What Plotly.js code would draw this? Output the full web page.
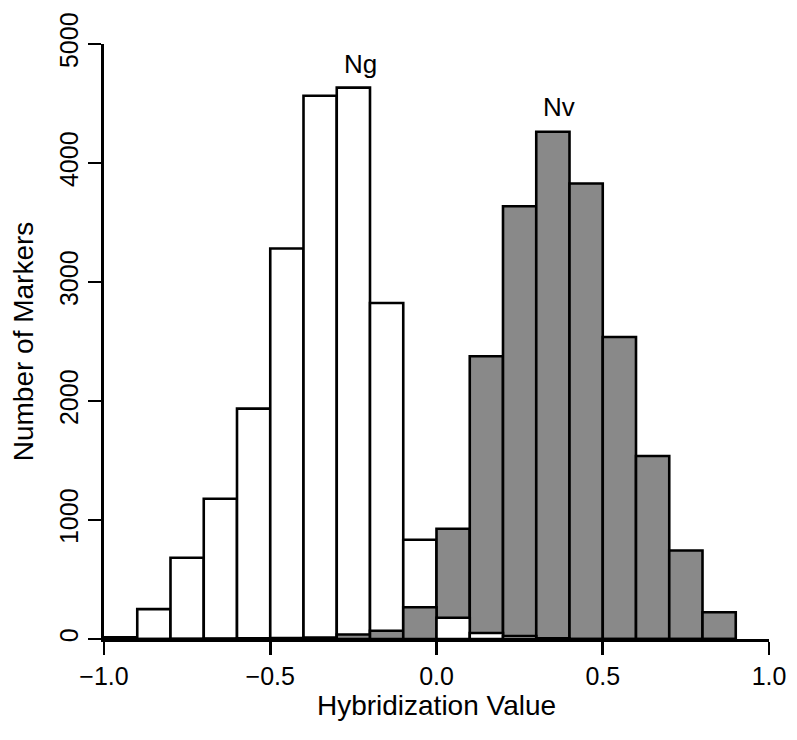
<!DOCTYPE html>
<html>
<head>
<meta charset="utf-8">
<script src="https://cdn.plot.ly/plotly-3.0.1.min.js"></script>
<style>
  html, body { margin: 0; padding: 0; background: #ffffff; }
  #chart { width: 797px; height: 740px; }
</style>
</head>
<body>
<div id="chart"></div>
<script>
// Histogram bins (left edges), width 0.1
const binStarts = [-1.0, -0.9, -0.8, -0.7, -0.6, -0.5, -0.4, -0.3, -0.2, -0.1,
                   0.0, 0.1, 0.2, 0.3, 0.4, 0.5, 0.6, 0.7, 0.8];
const binWidth = 0.1;
// Counts per bin
const ngCounts = [15, 251, 683, 1179, 1936, 3282, 4565, 4633, 2824, 834,
                  178, 50, 25, 5, 0, 0, 0, 0, 0];
const nvCounts = [0, 0, 2, 3, 5, 8, 12, 38, 69, 267,
                  927, 2376, 3637, 4263, 3828, 2538, 1538, 744, 225];
const seriesNames = ["Ng", "Nv"];
const xTickVals = [-1.0, -0.5, 0.0, 0.5, 1.0];
const yTickVals = [0, 1000, 2000, 3000, 4000, 5000];

const ngColor = "#ffffff";
const nvColor = "#898989";
const FONT = "Liberation Sans, Arial, Helvetica, sans-serif";

const centers = binStarts.map(s => s + binWidth / 2);
// In each bin, the taller bar is drawn behind and the shorter one in front
const backY = [], backC = [], frontY = [], frontC = [];
for (let i = 0; i < binStarts.length; i++) {
  const g = ngCounts[i], v = nvCounts[i];
  if (g >= v) { backY.push(g); backC.push(ngColor); frontY.push(v); frontC.push(nvColor); }
  else { backY.push(v); backC.push(nvColor); frontY.push(g); frontC.push(ngColor); }
}

const lineStyle = { color: "#000000", width: 2.6 };
const traces = [
  { type: "bar", x: centers, y: backY, width: binWidth,
    marker: { color: backC, line: lineStyle }, hoverinfo: "x+y", showlegend: false },
  { type: "bar", x: centers, y: frontY, width: binWidth,
    marker: { color: frontC, line: lineStyle }, hoverinfo: "x+y", showlegend: false }
];

const layout = {
  width: 797, height: 740,
  margin: { l: 104, r: 28, t: 44, b: 101 },
  paper_bgcolor: "#ffffff", plot_bgcolor: "#ffffff",
  barmode: "overlay", bargap: 0,
  font: { family: FONT, size: 24, color: "#000000" },
  showlegend: false,
  xaxis: {
    range: [-1, 1], tickvals: xTickVals, tickformat: ".1f",
    showgrid: false, zeroline: false, showline: true, linecolor: "#000", linewidth: 2.6,
    ticks: "outside", ticklen: 13, tickwidth: 2.6, tickcolor: "#000",
    tickfont: { family: FONT, size: 25, color: "#000" },
    title: { text: "Hybridization Value", font: { family: FONT, size: 28, color: "#000" }, standoff: 0 }
  },
  yaxis: {
    range: [0, 5000], tickvals: yTickVals, tickformat: "d",
    showgrid: false, zeroline: false, showline: true, linecolor: "#000", linewidth: 2.6,
    ticks: "outside", ticklen: 13, tickwidth: 2.6, tickcolor: "#000", tickangle: -90,
    tickfont: { family: FONT, size: 25, color: "#000" },
    title: { text: "Number of Markers", font: { family: FONT, size: 28, color: "#000" }, standoff: 14 }
  },
  annotations: [
    { x: -0.23, y: 4830, xref: "x", yref: "y", text: seriesNames[0], showarrow: false,
      font: { family: FONT, size: 26, color: "#000" } },
    { x: 0.368, y: 4470, xref: "x", yref: "y", text: seriesNames[1], showarrow: false,
      font: { family: FONT, size: 26, color: "#000" } }
  ]
};

Plotly.newPlot("chart", traces, layout, { displayModeBar: false, staticPlot: true });
</script>
</body>
</html>
